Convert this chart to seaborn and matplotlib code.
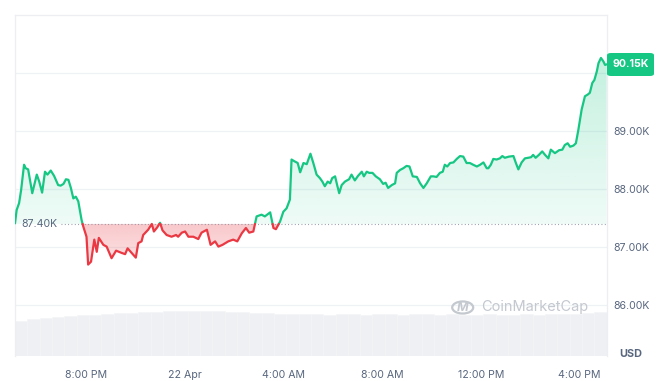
import numpy as np
import pandas as pd
import matplotlib
matplotlib.use("Agg")
import matplotlib.pyplot as plt
import matplotlib.dates as mdates
from matplotlib.patches import FancyBboxPatch, Circle
from matplotlib.path import Path
import seaborn as sns

# ---------------- data ----------------
start_time = "2025-04-21 17:06"
minutes = [0, 4, 10, 15, 22, 26, 32, 42, 53, 59, 66, 73, 79, 87, 95, 105, 111, 118, 124, 130,
           136, 142, 148, 154, 162, 166, 174, 178, 185, 193, 199, 204, 215, 223, 235, 246, 260, 268, 274, 284,
           294, 300, 308, 312, 324, 333, 338, 346, 353, 359, 369, 381, 392, 397, 406, 414, 422, 434, 446, 454,
           467, 476, 487, 495, 505, 519, 531, 541, 552, 562, 570, 580, 588, 600, 608, 621, 629, 635, 645, 653,
           661, 669, 673, 680, 688, 694, 702, 710, 719, 726, 734, 742, 748, 754, 761, 767, 772, 779, 784, 789,
           795, 803, 813, 819, 827, 835, 844, 849, 856, 862, 870, 878, 888, 896, 902, 908, 917, 925, 929, 937,
           945, 953, 960, 968, 978, 986, 994, 1002, 1012, 1018, 1026, 1034, 1041, 1046, 1052, 1059, 1067, 1075, 1083, 1091,
           1099, 1107, 1115, 1124, 1132, 1140, 1148, 1152, 1158, 1164, 1172, 1180, 1186, 1192, 1202, 1213, 1219, 1225, 1233, 1241,
           1249, 1256, 1261, 1267, 1275, 1283, 1290, 1298, 1304, 1314, 1324, 1332, 1338, 1345, 1351, 1359, 1365, 1371, 1379, 1387,
           1394, 1399, 1405, 1410, 1416, 1420, 1426, 1432, 1436, 1440]
prices = [87410, 87640, 87760, 87990, 88420, 88360, 88340, 87930, 88250, 88130, 87940, 88300, 88250, 88320, 88230, 88070, 88060, 88090, 88170, 88160,
          88020, 87840, 87870, 87790, 87470, 87360, 87180, 86700, 86750, 87130, 86920, 87160, 87040, 87010, 86810, 86940, 86900, 86880, 86980, 86900,
          86820, 87070, 87100, 87210, 87300, 87400, 87270, 87340, 87420, 87290, 87210, 87180, 87210, 87180, 87250, 87270, 87180, 87180, 87140, 87250,
          87300, 87040, 87100, 87010, 87040, 87100, 87130, 87100, 87240, 87330, 87250, 87270, 87530, 87560, 87530, 87600, 87330, 87310, 87440, 87610,
          87670, 87820, 88510, 88480, 88450, 88290, 88450, 88430, 88610, 88450, 88250, 88190, 88130, 88050, 88130, 88100, 88190, 88220, 88070, 87930,
          88070, 88130, 88170, 88250, 88150, 88230, 88300, 88220, 88300, 88280, 88280, 88220, 88170, 88090, 88110, 88020, 88070, 88100, 88280, 88330,
          88360, 88400, 88390, 88220, 88210, 88100, 88020, 88100, 88220, 88220, 88210, 88280, 88300, 88420, 88390, 88450, 88460, 88520, 88570, 88560,
          88450, 88450, 88420, 88390, 88420, 88460, 88360, 88360, 88420, 88520, 88510, 88530, 88570, 88540, 88560, 88570, 88450, 88340, 88460, 88530,
          88540, 88550, 88590, 88540, 88590, 88650, 88590, 88530, 88680, 88620, 88670, 88680, 88760, 88790, 88730, 88750, 88790, 89020, 89370, 89600,
          89630, 89660, 89830, 89880, 90030, 90170, 90260, 90200, 90140, 90150]
open_price = 87400
open_label = "87.40K"
last_label = "90.15K"

# 30-minute volume bars (relative units)
volume = [35, 37, 38, 39, 40, 41, 41.5, 42, 43, 43.5, 44, 44.5, 45, 45, 45.5, 45.5,
          45, 44.5, 44, 43.5, 43, 42.5, 42, 42, 42, 41.5, 42, 42, 41.5, 42, 42, 41.5,
          42, 42, 41.5, 42, 41.5, 41.5, 42, 41.5, 41.5, 42, 41.5, 42, 42.5, 42.5, 43, 44]

y_ticks = [86000, 87000, 88000, 89000, 90000]
y_tick_labels = ["86.00K", "87.00K", "88.00K", "89.00K", ""]
x_tick_times = ["2025-04-21 20:00", "2025-04-22 00:00", "2025-04-22 04:00",
                "2025-04-22 08:00", "2025-04-22 12:00", "2025-04-22 16:00"]
x_tick_labels = ["8:00 PM", "22 Apr", "4:00 AM", "8:00 AM", "12:00 PM", "4:00 PM"]

GREEN = "#16c784"
RED = "#ea3943"
GREY = "#58667e"
GRID = "#eff2f5"

# ---------------- prepare ----------------
t0 = pd.Timestamp(start_time)
times = t0 + pd.to_timedelta(minutes, unit="m")
tnum = mdates.date2num(times.to_pydatetime())
p = np.array(prices, dtype=float)

# insert baseline crossings so the colour switch is clean
xs, ys = [tnum[0]], [p[0]]
for i in range(1, len(p)):
    a, b = p[i - 1] - open_price, p[i] - open_price
    if a * b < 0:
        f = a / (a - b)
        xs.append(tnum[i - 1] + f * (tnum[i] - tnum[i - 1]))
        ys.append(open_price)
    xs.append(tnum[i]); ys.append(p[i])
xs = np.array(xs); ys = np.array(ys)

# segments for seaborn
rows = []
seg = 0
side_prev = None
for i in range(len(xs)):
    if ys[i] > open_price:
        side = "up"
    elif ys[i] < open_price:
        side = "down"
    else:
        side = side_prev if side_prev is not None else "up"
    if side_prev is not None and side != side_prev:
        seg += 1
        rows.append(dict(t=xs[i - 1], price=ys[i - 1], seg=seg, side=side))
    rows.append(dict(t=xs[i], price=ys[i], seg=seg, side=side))
    side_prev = side
df = pd.DataFrame(rows)

# ---------------- figure ----------------
sns.set_theme(style="white")
plt.rcParams["font.family"] = ["Inter", "DejaVu Sans"]

fig = plt.figure(figsize=(6.62, 3.81), dpi=100)
rect = [15 / 662, 1 - 356 / 381, (606.7 - 15) / 662, (356 - 15) / 381]
axv = fig.add_axes(rect, zorder=0)
ax = fig.add_axes(rect, zorder=1)
ax.set_facecolor("none")

# volume
vt = t0 + pd.to_timedelta(np.arange(len(volume)) * 30, unit="m")
vnum = mdates.date2num(vt.to_pydatetime())
width = 30 / 1440
axv.bar(vnum, volume, width=width, align="edge", color="#eef0f3",
        edgecolor="#f4f5f7", linewidth=0.4)
axv.set_xlim(tnum[0], tnum[-1])
axv.set_ylim(0, 341)
axv.axis("off")

# gradient fills
ymin, ymax = 85125, 91000
up_mask = ys >= open_price
dn_mask = ys <= open_price
poly_up = ax.fill_between(xs, open_price, ys, where=up_mask, interpolate=True,
                          facecolor="none", edgecolor="none")
poly_dn = ax.fill_between(xs, open_price, ys, where=dn_mask, interpolate=True,
                          facecolor="none", edgecolor="none")


def gradient(color, a_low, a_high, y0, y1, coll):
    rgb = matplotlib.colors.to_rgb(color)
    n = 256
    arr = np.zeros((n, 1, 4))
    arr[:, 0, :3] = rgb
    arr[:, 0, 3] = np.linspace(a_low, a_high, n)
    im = ax.imshow(arr, extent=[tnum[0], tnum[-1], y0, y1], origin="lower",
                   aspect="auto", zorder=1, interpolation="bilinear")
    clip = Path.make_compound_path(*coll.get_paths())
    im.set_clip_path(clip, ax.transData)
    return im


gradient(GREEN, 0.07, 0.30, open_price, ymax, poly_up)
gradient(RED, 0.12, 0.28, 86600, open_price, poly_dn)

# price line
sns.lineplot(data=df, x="t", y="price", units="seg", estimator=None, hue="side",
             palette={"up": GREEN, "down": RED}, linewidth=1.6, legend=False,
             ax=ax, zorder=3)

# baseline
ax.plot([mdates.date2num(t0 + pd.Timedelta(minutes=112)), tnum[-1]], [open_price, open_price],
        linestyle=(0, (0.8, 2.2)), color="#8a93a3", linewidth=0.8, zorder=2)
ax.text(mdates.date2num(t0 + pd.Timedelta(minutes=15)), open_price, open_label,
        ha="left", va="center", fontsize=7.6, color=GREY, zorder=4)

# axes styling
ax.set_xlim(tnum[0], tnum[-1])
ax.set_ylim(ymin, ymax)
ax.set_yticks(y_ticks)
ax.set_yticklabels(y_tick_labels)
ax.yaxis.tick_right()
ax.tick_params(axis="y", length=0, pad=5, labelsize=7.6, labelcolor=GREY)
ax.set_xticks(mdates.date2num(pd.to_datetime(x_tick_times).to_pydatetime()))
ax.set_xticklabels(x_tick_labels)
ax.tick_params(axis="x", length=0, pad=10, labelsize=7.6, labelcolor=GREY)
ax.set_xlabel(""); ax.set_ylabel("")
ax.grid(axis="y", color=GRID, linewidth=0.9)
ax.set_axisbelow(True)
for s in ["top", "left", "right"]:
    ax.spines[s].set_color("#eceef1")
    ax.spines[s].set_linewidth(0.9)
ax.spines["bottom"].set_visible(False)

# last price tag
tag = FancyBboxPatch((607 / 662, 1 - 76 / 381), 47 / 662, 23 / 381,
                     boxstyle="round,pad=0,rounding_size=0.006",
                     transform=fig.transFigure, facecolor=GREEN, edgecolor="none", zorder=5)
fig.patches.append(tag)
fig.text(630.5 / 662, 1 - 64 / 381, last_label, ha="center", va="center",
         fontsize=7.6, color="white", fontweight="bold", zorder=6)

fig.text(631 / 662, 1 - 354 / 381, "USD", ha="center", va="center",
         fontsize=7.8, color=GREY, fontweight="bold")

# watermark
wm_color = "#c4c8cf"
circ = Circle((462.7 / 662, 1 - 307.5 / 381), 10.5 / 662, transform=fig.transFigure,
              facecolor="none", edgecolor=wm_color, linewidth=1.6, zorder=2)
fig.patches.append(circ)
fig.text(462.7 / 662, 1 - 308 / 381, "M", ha="center", va="center", fontsize=9,
         color=wm_color, fontweight="bold", style="italic")
fig.text(481 / 662, 1 - 307.5 / 381, "CoinMarketCap", ha="left", va="center",
         fontsize=10.5, color=wm_color)

fig.savefig("out.png", dpi=100)
